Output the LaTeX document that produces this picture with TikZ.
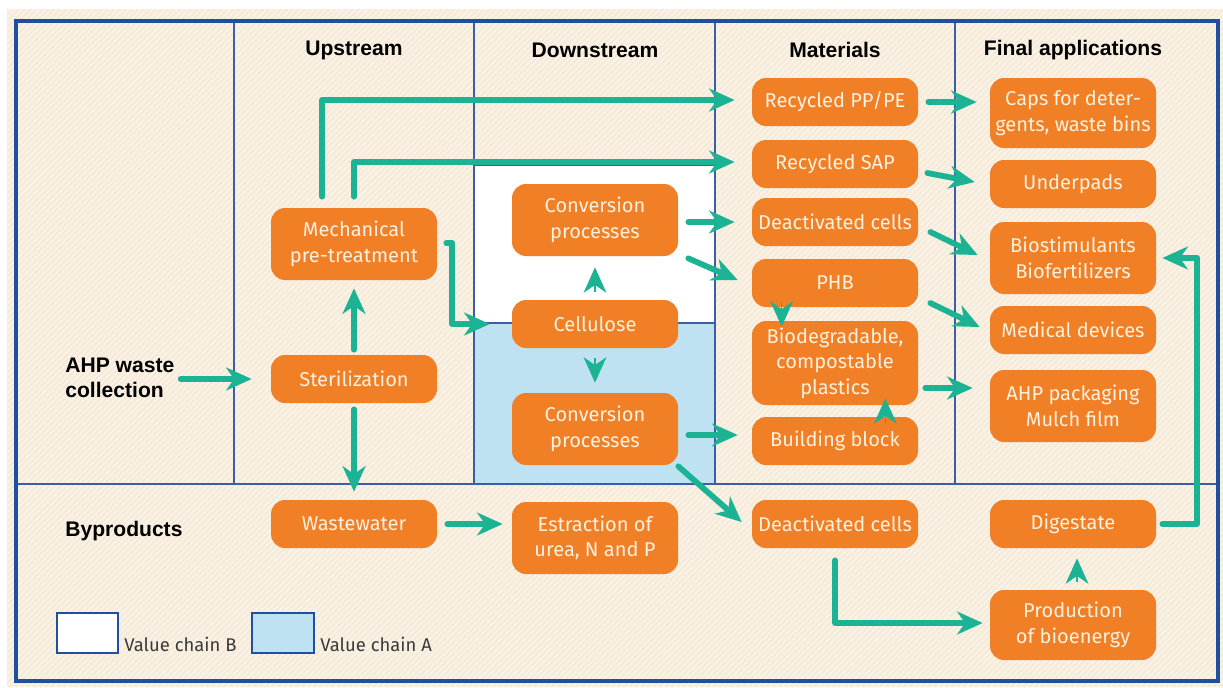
\documentclass[tikz,border=0pt]{standalone}
\usepackage{fontspec}
\setmainfont{Fira Sans}
\newfontfamily\hdrfont{Liberation Sans}
\usetikzlibrary{arrows.meta,calc,patterns.meta}
\definecolor{bg}{HTML}{F6EAD8}
\definecolor{stripe}{HTML}{FBF4EA}
\definecolor{frame}{HTML}{1F4F9E}
\definecolor{gridc}{HTML}{3C5DA8}
\definecolor{boxc}{HTML}{F07F26}
\definecolor{boxtext}{HTML}{FFF1DF}
\definecolor{arrc}{HTML}{1BB394}
\definecolor{chainA}{HTML}{BEE2F2}
\definecolor{legtext}{HTML}{3A3A3A}
\newlength\pxl \setlength\pxl{0.02cm}
\tikzset{
  box/.style={fill=boxc, rounded corners=8pt, text=boxtext, align=center,
    minimum width=166\pxl, inner sep=0pt, font=\fontsize{11.4}{14.5}\selectfont},
  h48/.style={minimum height=48\pxl},
  h72/.style={minimum height=72\pxl},
  h84/.style={minimum height=84\pxl},
  hdr/.style={font=\hdrfont\bfseries\fontsize{12}{14}\selectfont, text=black},
  side/.style={font=\hdrfont\bfseries\fontsize{12}{14.5}\selectfont, text=black, align=left, anchor=west, inner sep=0pt},
  arr/.style={draw=arrc, line width=3.3pt, line cap=round, line join=round,
    -{Stealth[length=14.5pt,width=13pt,inset=4.5pt]}},
  headonly/.style={draw=arrc, line width=0.6pt,
    -{Stealth[length=14.5pt,width=13pt,inset=4.5pt]}},
  gridline/.style={draw=gridc, line width=0.9pt},
  legbox/.style={draw=frame, line width=1.3pt},
  legtxt/.style={font=\fontsize{10.5}{12}\selectfont, text=legtext, anchor=base west, inner sep=0pt}
}
\begin{document}
\begin{tikzpicture}[x=0.02cm,y=-0.02cm]
\useasboundingbox (0,0) rectangle (1223,687);
\fill[white] (0,0) rectangle (1223,687);
\fill[bg] (7,9) rectangle (1223,687);
\fill[pattern={Lines[angle=45,distance=2.4pt,line width=0.9pt]}, pattern color=stripe] (7,9) rectangle (1223,687);
% value chain areas
\fill[white] (474,165) rectangle (715,323);
\fill[chainA] (474,323) rectangle (715,484);
\draw[gridline] (474,165) -- (715,165);
\draw[gridline] (474,323) -- (715,323);
% grid
\foreach \xx in {234,474,715,955} \draw[gridline] (\xx,21) -- (\xx,484);
\draw[gridline] (16,484) -- (1218,484);
\draw[draw=frame, line width=2.2pt] (16,21) rectangle (1218,681);
% headers
\node[hdr] (hup) at (354,50) {Upstream};
\node[hdr] (hdown) at (595,50) {Downstream};
\node[hdr] (hmat) at (835,50) {Materials};
\node[hdr] (hfin) at (1073,50) {Final applications};
\node[side] (ahp) at (65,378) {AHP waste\\collection};
\node[side] (byp) at (65,531) {Byproducts};
% nodes
\node[box,h72] (mech) at (354,244) {Mechanical\\pre-treatment};
\node[box,h48] (ster) at (354,379) {Sterilization};
\node[box,h48] (waste) at (354,524) {Wastewater};
\node[box,h72] (conv1) at (595,220) {Conversion\\processes};
\node[box,h48] (cell) at (595,324) {Cellulose};
\node[box,h72] (conv2) at (595,429) {Conversion\\processes};
\node[box,h72] (estr) at (595,538) {Estraction of\\urea, N and P};
\node[box,h48] (rpp) at (835,102) {Recycled PP/PE};
\node[box,h48] (rsap) at (835,164) {Recycled SAP};
\node[box,h48] (dcell) at (835,222) {Deactivated cells};
\node[box,h48] (phb) at (835,283) {PHB};
\node[box,h84] (bio) at (835,363) {Biodegradable,\\compostable\\plastics};
\node[box,h48] (bblock) at (835,441) {Building block};
\node[box,h48] (dcell2) at (835,524) {Deactivated cells};
\node[box,minimum height=70\pxl] (caps) at (1073,113) {Caps for deter-\\gents, waste bins};
\node[box,h48] (under) at (1073,184) {Underpads};
\node[box,h72] (biost) at (1073,258) {Biostimulants\\Biofertilizers};
\node[box,h48] (med) at (1073,330) {Medical devices};
\node[box,h72] (pack) at (1073,406) {AHP packaging\\Mulch film};
\node[box,h48] (dig) at (1073,524) {Digestate};
\node[box,minimum height=70\pxl] (prod) at (1073,625) {Production\\of bioenergy};
% connectors
\draw[arr, shorten <=6\pxl, shorten >=19\pxl] (ahp.east |- ster.west) -- (ster.west);
\draw[arr, shorten <=5\pxl, shorten >=8\pxl] (ster.north) -- (mech.south);
\draw[arr, shorten <=6\pxl, shorten >=8\pxl] (ster.south) -- (waste.north);
\draw[arr, shorten <=11\pxl, shorten >=17\pxl] ($(mech.north)+(-32,0)$) |- ($(rpp.west)+(0,-2)$);
\draw[arr, shorten <=11\pxl, shorten >=17\pxl] (mech.north) |- ($(rsap.west)+(0,-2)$);
\draw[arr, shorten >=22\pxl] ($(mech.east)+(9,-1)$) -- ++(6,0) |- (cell.west);
\draw[arr, shorten <=10\pxl, shorten >=9\pxl] (waste.east) -- (waste.east -| estr.west);
\draw[headonly, shorten <=8\pxl, shorten >=11\pxl] (cell.north) -- (conv1.south);
\draw[headonly, shorten <=10\pxl, shorten >=10\pxl] (cell.south) -- (conv2.north);
\draw[arr, shorten <=10\pxl, shorten >=17\pxl] ($(conv1.east)+(0,2)$) -- (dcell.west);
\draw[arr] ($(conv1.south east)+(10,2)$) -- ($(phb.west)+(-14,-3)$);
\draw[arr] ($(conv2.east)+(10,6)$) -- ($(bblock.west)+(-14,-6)$);
\draw[arr] ($(conv2.south east)+(0,1)$) -- ($(dcell2.west)+(-10,-2)$);
\draw[headonly] ($(phb.south west)+(30,-5)$) -- ($(bio.north west)+(30,6)$);
\draw[headonly] ($(bblock.north east)+(-33,6)$) -- ($(bio.south east)+(-33,-7)$);
\draw[arr, shorten <=10\pxl, shorten >=13\pxl] (rpp.east) -- (rpp.east -| caps.west);
\draw[arr] ($(rsap.east)+(9,9)$) -- ($(under.west)+(-15,-2)$);
\draw[arr] ($(dcell.east)+(12,10)$) -- ($(biost.west)+(-12,-3)$);
\draw[arr] ($(phb.east)+(12,20)$) -- ($(med.west)+(-10,-3)$);
\draw[arr] ($(bio.east)+(7,25)$) -- ($(pack.west)+(-17,-18)$);
\draw[arr, shorten <=12\pxl] (dcell2.south) |- ($(prod.west)+(-7,-2)$);
\draw[headonly] ($(prod.north)+(4,-8)$) -- ($(dig.south)+(4,10)$);
\draw[arr] ($(dig.east)+(6,0)$) -- ++(35,0) |- ($(biost.east)+(6,0)$);
% legend
\draw[legbox, fill=white] (57,613) rectangle (118,653);
\node[legtxt] (legB) at (124,651) {Value chain B};
\draw[legbox, fill=chainA] (252,613) rectangle (314,653);
\node[legtxt] (legA) at (320,651) {Value chain A};
\end{tikzpicture}
\end{document}
